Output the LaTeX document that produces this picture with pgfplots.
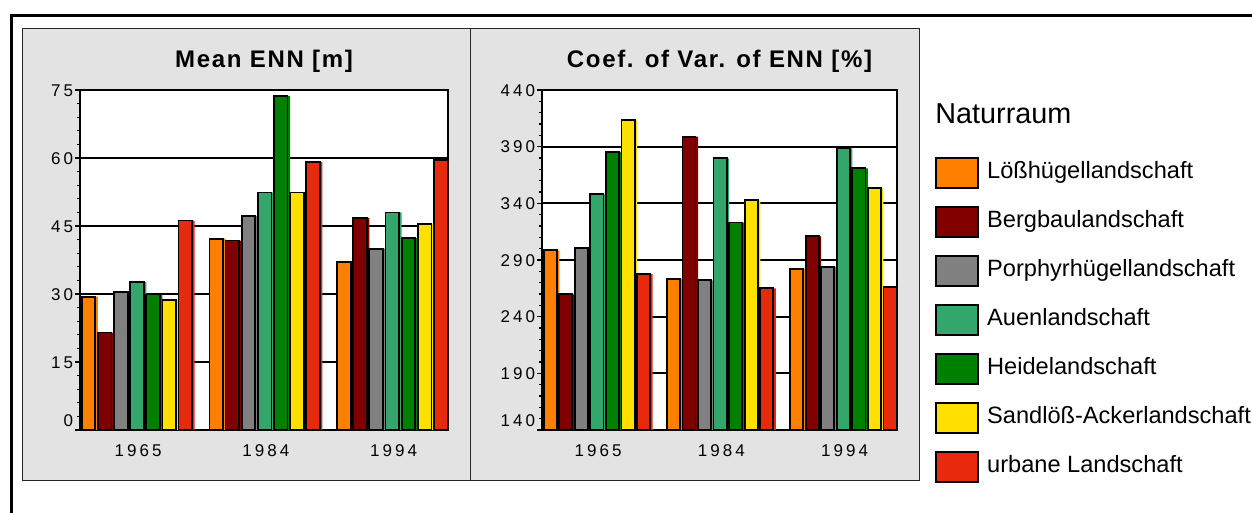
\documentclass[border=0pt]{standalone}
\usepackage{fontspec}
\setmainfont{Liberation Sans}
\newfontfamily\tickfont[LetterSpace=18]{Liberation Sans}
\newfontfamily\titlefont[LetterSpace=7]{Liberation Sans}
\usepackage{pgfplots}
\pgfplotsset{compat=1.18}
\definecolor{cLoess}{HTML}{FF7F00}
\definecolor{cBerg}{HTML}{800000}
\definecolor{cPorph}{HTML}{808080}
\definecolor{cAuen}{HTML}{33A66B}
\definecolor{cHeide}{HTML}{008000}
\definecolor{cSand}{HTML}{FFE000}
\definecolor{cUrban}{HTML}{E8290E}
\definecolor{panel}{HTML}{E3E3E3}
\pgfplotsset{
  legsq/.style={legend image code/.code={\draw[fill=#1,draw=black,line width=0.9pt] (0pt,-4.65pt) rectangle (21pt,10.35pt);}},
  myaxis/.style={
    scale only axis, height=170pt, ybar, bar width=0.1264,
    xmin=-0.456, xmax=2.426, xtick={0,1,2}, xticklabels={1965,1984,1994},
    axis background/.style={fill=white},
    ymajorgrids, grid style={black, line width=0.85pt},
    axis line style={black, line width=1pt},
    tick align=outside, ytick pos=left, xtick pos=bottom,
    xtick style={draw=none},
    ytick style={black, line width=0.6pt},
    major tick length=2.5pt, minor tick length=1.5pt,
    minor y tick num=4,
    yticklabel style={font=\tickfont\fontsize{8.5}{10}\selectfont, anchor=base east, yshift=-3.05pt, inner sep=0pt, xshift=-0.8pt},
    xticklabel style={font=\tickfont\fontsize{8.5}{10}\selectfont, anchor=base, inner sep=0pt, yshift=-11pt},
    title style={at={(0.5,1)}, anchor=base, yshift=5.35pt, font=\titlefont\bfseries\fontsize{12}{14}\selectfont},
  }
}
\newcommand\bp[4]{%
  \addplot[fill=#1, draw=none, bar width=0.1264, bar shift=#2, forget plot] coordinates {#4};
  \addplot[fill=#1, draw=black, line width=0.9pt, bar width=0.1064, bar shift=#3, legsq=#1] coordinates {#4};
}
\begin{document}
\begin{tikzpicture}
\useasboundingbox (0,0) rectangle (626pt,256.5pt);
\begin{scope}[x=0.5pt,y=0.5pt]
  \fill[white] (0,0) rectangle (1252,513);
  \draw[line width=1.5pt] (11.7,-10) -- (11.7,497) -- (1270,497);
  \draw[fill=panel, draw=black!85, line width=0.5pt] (22,32) rectangle (470,484);
  \draw[fill=panel, draw=black!85, line width=0.5pt] (470,32) rectangle (919,484);
  \node[anchor=base west, inner sep=0pt, font=\fontsize{14.4}{16}\selectfont] at (935,389.7) {Naturraum};
\end{scope}
\begin{axis}[myaxis, at={(40pt,41.5pt)}, anchor=south west, width=184pt,
  ymin=0, ymax=75, ytick={0,15,30,45,60,75},
  yticklabels={\raisebox{5pt}{0},15,30,45,60,75},
  title={Mean ENN [m]}]
\bp{cLoess}{-0.3792}{-0.3892}{(0,29.4) (1,42.2) (2,37.0)}
\bp{cBerg}{-0.2528}{-0.2628}{(0,21.5) (1,41.8) (2,46.8)}
\bp{cPorph}{-0.1264}{-0.1364}{(0,30.4) (1,47.2) (2,40.0)}
\bp{cAuen}{0}{-0.01}{(0,32.6) (1,52.4) (2,48.0)}
\bp{cHeide}{0.1264}{0.1164}{(0,29.9) (1,73.7) (2,42.3)}
\bp{cSand}{0.2528}{0.2428}{(0,28.7) (1,52.4) (2,45.4)}
\bp{cUrban}{0.3792}{0.3692}{(0,46.2) (1,59.1) (2,59.5)}
\end{axis}
\begin{axis}[myaxis, at={(271pt,41.5pt)}, anchor=south west, width=177.5pt,
  ymin=140, ymax=440, ytick={140,190,240,290,340,390,440},
  yticklabels={\raisebox{5pt}{140},190,240,290,340,390,440},
  title={Coef. of Var. of ENN [\%]},
  legend style={at={(1.107,0.804)}, anchor=north west, draw=none, fill=none, inner sep=0pt,
    row sep=8.6pt, font=\fontsize{11.8}{14}\selectfont, nodes={inner sep=0pt},
    cells={anchor=base west},
    /tikz/every odd column/.append style={column sep=4pt}}]
\bp{cLoess}{-0.3792}{-0.3892}{(0,298.5) (1,273.5) (2,282.4)}
\bp{cBerg}{-0.2528}{-0.2628}{(0,259.7) (1,398.8) (2,310.9)}
\bp{cPorph}{-0.1264}{-0.1364}{(0,300.3) (1,272.0) (2,284.1)}
\bp{cAuen}{0}{-0.01}{(0,348.0) (1,379.7) (2,388.5)}
\bp{cHeide}{0.1264}{0.1164}{(0,385.3) (1,323.0) (2,370.9)}
\bp{cSand}{0.2528}{0.2428}{(0,413.2) (1,342.6) (2,353.2)}
\bp{cUrban}{0.3792}{0.3692}{(0,277.6) (1,265.0) (2,266.5)}
\legend{Lößhügellandschaft, Bergbaulandschaft, Porphyrhügellandschaft, Auenlandschaft, Heidelandschaft, Sandlöß-Ackerlandschaft, urbane Landschaft}
\end{axis}
\end{tikzpicture}
\end{document}
